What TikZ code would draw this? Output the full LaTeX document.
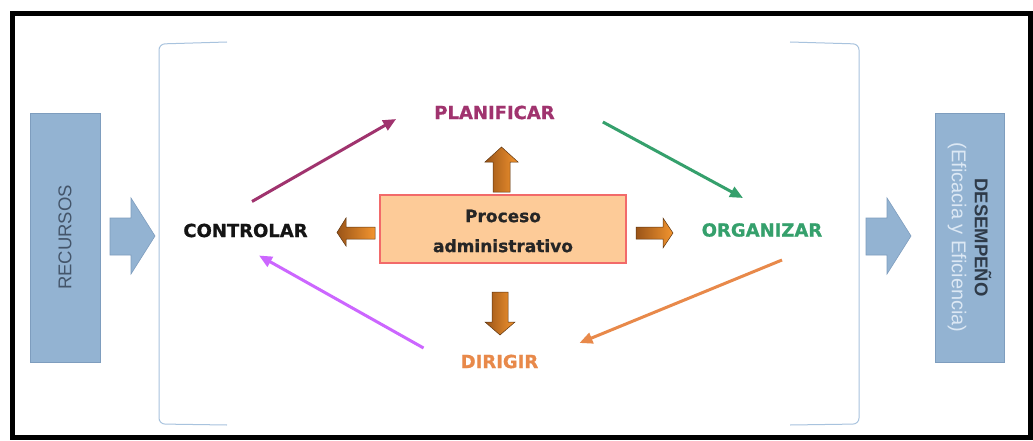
\documentclass[tikz,border=0pt]{standalone}
\usepackage{fontspec}
\usetikzlibrary{arrows.meta}
\newfontfamily\dvsans{DejaVu Sans}[BoldFeatures={FakeBold=0.9}]
\newfontfamily\libsans{Liberation Sans}
\definecolor{boxblue}{HTML}{93B3D2}
\definecolor{boxedge}{HTML}{7E9DBE}
\definecolor{rectext}{HTML}{44556A}
\definecolor{desdark}{HTML}{2E3A48}
\definecolor{deslight}{HTML}{DCE8F4}
\definecolor{bracketblue}{HTML}{A8C3DE}
\definecolor{procfill}{HTML}{FDCB98}
\definecolor{procred}{HTML}{F26A6A}
\definecolor{plancol}{HTML}{A0336E}
\definecolor{orgcol}{HTML}{35A06C}
\definecolor{dircol}{HTML}{E8894A}
\definecolor{violetcol}{HTML}{CC66FF}
\definecolor{ordark}{HTML}{9A5418}
\definecolor{orlight}{HTML}{F3952F}
\definecolor{oredge}{HTML}{5E3510}
\begin{document}
\begin{tikzpicture}[x=1pt,y=-1pt,
  phase/.style={font=\dvsans\bfseries\fontsize{18}{20}\selectfont, inner sep=0pt, anchor=center},
  flow/.style={line width=3pt, -{Triangle[length=13pt,width=11pt]}},
  bluebox/.style={draw=boxedge, fill=boxblue, line width=0.8pt, inner sep=0pt},
  bluearrow/.style={draw=boxedge, fill=boxblue, line width=0.6pt},
  orarrow/.style={draw=oredge, line width=0.5pt, left color=ordark, right color=orlight},
  bracket/.style={draw=bracketblue, line width=1pt, rounded corners=6pt}]
\useasboundingbox (0,0) rectangle (1033,441);

% frame
\fill[white] (12,13.5) rectangle (1030,437.5);
\draw[line width=5pt] (12,13.5) rectangle (1030,437.5);

% brackets around the cycle
\draw[bracket] (227,42) -- (159,44) -- (159,424) -- (227,425);
\draw[bracket] (790,42) -- (859,44) -- (859,424) -- (790,425);

% input and output boxes
\node[bluebox, rotate=90, minimum width=249pt, minimum height=70pt,
      font=\libsans\fontsize{18.5}{22}\selectfont, text=rectext] (rec) at (65,237.5) {RECURSOS};
\node[bluebox, rotate=-90, minimum width=249pt, minimum height=69pt, align=center,
      font=\libsans\fontsize{18.5}{23}\selectfont] (des) at (969.5,237.5)
  {{\bfseries\color{desdark}DESEMPEÑO}\\{\fontsize{20}{23}\selectfont\color{deslight}(Eficacia y Eficiencia)}};

% block arrows in and out
\draw[bluearrow] (110,218) -- (131,218) -- (131,198) -- (155,236) -- (131,274) -- (131,255) -- (110,255) -- cycle;
\draw[bluearrow] (866,218) -- (887,218) -- (887,198) -- (911,236) -- (887,274) -- (887,255) -- (866,255) -- cycle;

% central process box
\node[draw=procred, fill=procfill, line width=1.3pt, minimum width=246pt, minimum height=68pt, inner sep=0pt] (proc) at (503,229) {};
\node[font=\dvsans\bfseries\fontsize{17}{30}\selectfont, align=center, text={black!85}, inner sep=0pt] (proctext) at (503,231) {Proceso\\administrativo};

% small shaded arrows out of the process box
\draw[orarrow] (493,192) -- (493,162) -- (485,162) -- (501.5,147) -- (518,162) -- (510,162) -- (510,192) -- cycle;
\draw[orarrow] (492,292) -- (508,292) -- (508,322) -- (515,322) -- (500,335) -- (485,322) -- (492,322) -- cycle;
\draw[orarrow] (636,227) -- (663,227) -- (663,218) -- (673,233) -- (663,248) -- (663,239) -- (636,239) -- cycle;
\draw[orarrow] (375,227) -- (346,227) -- (346,218) -- (337,232.5) -- (346,246) -- (346,239) -- (375,239) -- cycle;

% phases
\node[phase, text=plancol] (plan) at (494.5,112.5) {PLANIFICAR};
\node[phase, text=orgcol] (org) at (762,230) {ORGANIZAR};
\node[phase, text=dircol] (dir) at (499.5,361.5) {DIRIGIR};
\node[phase, text={black!92}] (ctrl) at (245.5,230.5) {CONTROLAR};

% cycle connectors
\draw[flow, color=plancol] ([shift={(6.5,-22)}]ctrl.north) -- ([shift={(-38,6.5)}]plan.west);
\draw[flow, color=orgcol] ([shift={(48,9.5)}]plan.east) -- ([shift={(-19,-25)}]org.north);
\draw[flow, color=dircol] ([shift={(20,23)}]org.south) -- ([shift={(41,-18.5)}]dir.east);
\draw[flow, color=violetcol] ([shift={(-37,-13.5)}]dir.west) -- ([shift={(13.5,18)}]ctrl.south);
\end{tikzpicture}
\end{document}
